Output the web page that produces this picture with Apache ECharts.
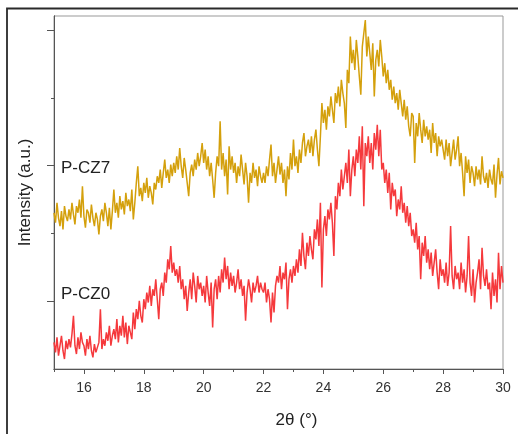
<!DOCTYPE html>
<html>
<head>
<meta charset="utf-8">
<script src="https://cdn.jsdelivr.net/npm/echarts@6/dist/echarts.min.js"></script>
<style>
html,body{margin:0;padding:0;background:#fff;}
#c{width:518px;height:434px;}
</style>
</head>
<body>
<div id="c"></div>
<script>
// 2θ sampling of the scan (degrees)
const thetaStart = 15.0;
const thetaStep = 0.05;

// Intensity (a.u., offset stacked)
const cz7 = [
470,440,500,455,430,475,420,490,460,445,
480,450,500,465,435,490,470,510,455,550,
460,425,480,470,440,495,455,430,470,450,
405,460,480,445,500,470,430,485,420,475,
540,470,500,455,520,480,505,465,530,490,
510,475,540,450,500,560,610,520,545,505,
560,530,575,515,550,530,495,560,540,580,
560,600,545,590,630,575,600,560,615,580,
620,590,640,600,665,610,575,635,600,560,
520,590,615,580,630,600,650,610,640,680,
620,660,600,640,580,620,570,515,590,640,
610,745,600,650,580,630,525,670,600,640,
590,620,560,610,580,645,600,555,620,580,
500,590,560,620,575,600,550,610,580,560,
590,560,610,580,630,675,580,620,560,600,
640,585,620,560,600,520,610,570,650,600,
690,610,640,590,660,620,680,710,640,670,
690,650,700,640,690,720,660,610,700,800,
740,780,720,790,760,820,780,740,830,800,
850,790,870,830,800,725,900,860,1000,920,
960,900,990,940,880,825,970,1010,1050,940,
1000,950,900,980,820,930,960,910,990,940,
880,920,860,900,840,870,810,850,800,830,
780,840,800,760,810,750,790,730,700,770,
760,620,740,700,770,720,680,750,700,730,
690,720,650,740,680,710,640,700,670,690,
660,630,690,640,680,610,650,690,630,660,
700,610,650,590,520,640,590,630,560,610,
590,550,610,570,600,555,640,580,560,590,
545,600,570,555,615,515,585,635,555,595,
575
];

const cz0 = [
80,50,95,40,70,100,55,30,85,60,
90,65,105,160,70,45,95,60,110,80,
70,40,90,60,100,55,35,75,50,45,
80,180,60,90,70,110,85,130,70,100,
120,90,150,80,130,100,160,95,140,75,
130,110,90,170,120,180,150,205,160,140,
210,180,230,200,250,190,240,220,270,210,
150,240,260,220,290,260,330,300,370,290,
320,280,300,260,310,240,270,210,250,175,
230,270,210,290,250,200,280,240,260,220,
250,200,280,230,190,260,125,240,270,210,
280,230,300,260,335,270,310,240,290,250,
280,230,260,300,240,270,220,250,145,230,
270,240,200,260,230,250,280,230,260,240,
230,260,200,240,210,140,230,170,250,280,
260,310,240,290,270,320,180,270,300,260,
310,280,330,290,360,310,410,340,300,380,
340,400,360,330,420,390,450,370,500,245,
420,460,400,480,450,500,440,340,520,480,
560,520,600,540,580,620,560,660,520,600,
640,580,660,620,700,600,730,490,680,640,
700,620,680,600,710,660,735,640,720,600,
620,560,600,530,590,480,560,520,540,460,
510,480,550,470,500,440,490,430,470,400,
420,380,440,360,400,270,380,340,400,320,
360,300,350,280,320,360,290,240,330,280,
300,260,320,250,290,430,280,240,310,270,
290,240,320,260,300,230,280,400,260,220,
300,200,260,290,330,240,365,280,250,300,
240,260,180,290,220,270,200,350,240,310,
260
];

// axis ticks / labels
const xMajorTicks = [16,18,20,22,24,26,28,30];
const xMinorTicks = [15,17,19,21,23,25,27,29];
const yMajorTicks = [204,612,1020];
const yMinorTicks = [408,816];
const sampleNames = ['P-CZ0','P-CZ7'];
const sampleLabelPos = [225,604];

function pairs(arr){
  const out = [];
  for (let i = 0; i < arr.length; i++) {
    out.push([+(thetaStart + i*thetaStep).toFixed(2), arr[i]]);
  }
  return out;
}

const font = 'Liberation Sans, Arial, Helvetica, sans-serif';
const axisColor = '#555';

const chart = echarts.init(document.getElementById('c'), null, {renderer:'canvas'});
chart.setOption({
  animation:false,
  backgroundColor:'#fff',
  grid:{left:54,right:15,top:16,bottom:64,show:true,borderColor:'#999',borderWidth:1},
  xAxis:[{
    type:'value',min:15,max:30,position:'bottom',
    name:'2θ (°)',nameLocation:'middle',nameGap:43,
    nameTextStyle:{fontFamily:font,fontSize:17,color:'#222',padding:[0,0,0,36]},
    axisLine:{onZero:false,lineStyle:{color:axisColor,width:1}},
    axisTick:{customValues:xMajorTicks,length:5,lineStyle:{color:axisColor}},
    axisLabel:{customValues:xMajorTicks,margin:12,fontFamily:font,fontSize:14,color:'#333'},
    splitLine:{show:false}
  },{
    type:'value',min:15,max:30,position:'bottom',
    axisLine:{onZero:false,lineStyle:{color:axisColor,width:1}},
    axisTick:{customValues:xMinorTicks,length:3,lineStyle:{color:axisColor}},
    axisLabel:{show:false},
    splitLine:{show:false}
  }],
  yAxis:[{
    type:'value',min:0,max:1062,position:'left',
    name:'Intensity (a.u.)',nameLocation:'middle',nameGap:20,
    nameTextStyle:{fontFamily:font,fontSize:17,color:'#222'},
    axisLine:{onZero:false,lineStyle:{color:axisColor,width:1}},
    axisTick:{customValues:yMajorTicks,length:7,lineStyle:{color:axisColor}},
    axisLabel:{inside:true,customValues:sampleLabelPos,margin:7,fontFamily:font,fontSize:17,color:'#222',
      formatter:function(v){ return v === sampleLabelPos[0] ? sampleNames[0] : sampleNames[1]; }},
    splitLine:{show:false}
  },{
    type:'value',min:0,max:1062,position:'left',
    axisLine:{onZero:false,lineStyle:{color:axisColor,width:1}},
    axisTick:{customValues:yMinorTicks,length:3,lineStyle:{color:axisColor}},
    axisLabel:{show:false},
    splitLine:{show:false}
  }],
  graphic:[{
    type:'polyline',silent:true,
    shape:{points:[[7,434],[7,8.5],[518,8.5]]},
    style:{stroke:'#2a2a2a',lineWidth:1.8,fill:null}
  }],
  series:[{
    name:sampleNames[1],type:'line',showSymbol:false,
    data:pairs(cz7),
    lineStyle:{color:'#d4a00c',width:1.5},itemStyle:{color:'#d4a00c'}
  },{
    name:sampleNames[0],type:'line',showSymbol:false,
    data:pairs(cz0),
    lineStyle:{color:'#f5393c',width:1.5},itemStyle:{color:'#f5393c'}
  }]
});
</script>
</body>
</html>
